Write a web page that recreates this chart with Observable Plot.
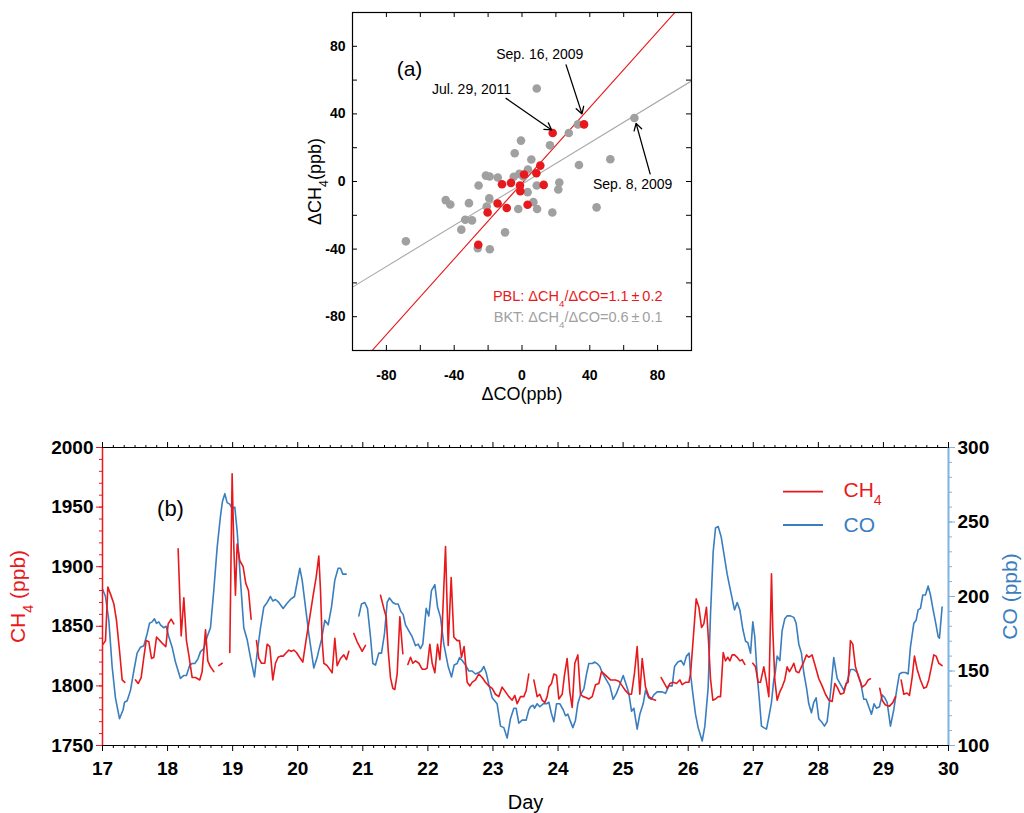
<!DOCTYPE html>
<html><head><meta charset="utf-8">
<script src="https://cdn.jsdelivr.net/npm/d3@7"></script>
<script src="https://cdn.jsdelivr.net/npm/@observablehq/plot@0.6"></script>
<style>
body{margin:0;background:#fff;}
#chart{position:relative;width:1024px;height:813px;background:#fff;}
#chart svg{display:block;}
</style></head><body><div id="chart"></div>
<script>
// ---------- Panel (a) data ----------
const scatterDomain = [-100, 100];
const scatterLabelTicks = [-80, -40, 0, 40, 80];
const scatterMinorTicks = [-80, -60, -40, -20, 0, 20, 40, 60, 80];
const bktX = [8.7, 33, 27.6, -0.6, 16.5, -4.3, 5.5, 33.6, 52.1, 3.5, 0.8, -21.3, -19.1, -14.3, -4.9, -25.6, 8.7, 22, 21.4, -19.3, -45, -42.3, -31.3, -20.8, 6.7, 8.9, -2.2, 17.9, -33.5, -29.5, -35.8, -10, -68.5, -26.1, -19, 44, 66.3, 3.3, -1.6];
const bktY = [55, 33.8, 28.7, 24.2, 21.4, 16.7, 13, 9.8, 13.2, 7.1, 3, 3.5, 3, 2.4, 2.8, -2.4, -2.4, -0.6, -4.7, -10, -11, -13.6, -12.8, -14.8, -12.2, -16.3, -16.3, -18.3, -22.6, -23, -28.5, -30.1, -35.4, -39.4, -40.1, -15.3, 37.6, -6.3, 4.5];
const pblX = [18.1, 36.6, 10.8, 8.5, 1.2, -11.8, -6.5, -1.2, -1, 12.8, -14.4, -9, 3.3, -20.3, -25.8];
const pblY = [28.7, 33.8, 9.4, 4.9, 4.1, -1.6, -0.8, -2.4, -5.7, -2, -13, -15.7, -13.8, -18.3, -37.4];
const pblFit = {slope: 1.12, intercept: -1};
const bktFit = {slope: 0.61, intercept: -1.5};
const annoText = ["Sep. 16, 2009", "Jul. 29, 2011", "Sep. 8, 2009"];
const annoTextX = [10.5, -29.8, 65.3];
const annoTextY = [75, 54.6, -1.5];
const annoX1 = [26, -9.4, 75.6];
const annoY1 = [69, 49.2, 4.5];
const annoX2 = [35.4, 17.5, 67.3];
const annoY2 = [40, 30.5, 34.4];

// ---------- Panel (b) data ----------
const dayDomain = [17, 30];
const ch4Domain = [1750, 2000];
const coDomain = [100, 300];
const dayTicks = d3.range(17, 31);
const ch4Ticks = [1750, 1800, 1850, 1900, 1950, 2000];
const coTicks = [100, 150, 200, 250, 300];
// CH4 (ppb) series, [day, value]; null = data gap
const ch4Series = [
 [17.01,1835],[17.046,1838],[17.082,1883],[17.123,1877],[17.174,1869],[17.215,1855],[17.266,1827],[17.302,1805],[17.343,1803],null,
 [17.507,1805],[17.548,1802],[17.594,1807],[17.635,1824],[17.671,1838],[17.712,1837],[17.753,1823],[17.789,1824],[17.83,1841],[17.881,1838],[17.932,1835],[17.973,1833],[18.009,1852],[18.055,1856],[18.096,1852],null,
 [18.162,1915],[18.209,1842],[18.25,1874],[18.29,1838],[18.326,1826],[18.378,1807],[18.429,1807],[18.495,1805],[18.531,1812],[18.583,1847],[18.618,1821],[18.659,1816],[18.711,1812],null,
 [18.787,1817],[18.839,1819],null,
 [18.956,1828],[18.992,1978],[19.018,1916],[19.043,1876],[19.069,1919],[19.11,1905],[19.161,1900],[19.202,1886],[19.243,1880],[19.284,1856],null,
 [19.366,1838],[19.402,1823],[19.443,1819],[19.494,1819],[19.53,1835],[19.571,1833],[19.617,1805],[19.658,1819],[19.699,1824],[19.735,1825],[19.776,1825],[19.827,1828],[19.863,1830],[19.899,1829],[19.94,1830],[19.981,1828],[20.027,1824],[20.078,1820],[20.135,1841],[20.186,1858],[20.237,1876],[20.283,1891],[20.324,1909],[20.35,1880],[20.375,1838],[20.401,1819],[20.452,1817],[20.503,1813],[20.529,1811],[20.57,1840],[20.606,1817],[20.657,1823],[20.708,1826],[20.749,1822],[20.785,1829],null,
 [20.862,1844],[20.913,1837],[20.99,1829],[21.041,1834],null,
 [21.272,1876],[21.323,1865],[21.359,1858],[21.39,1830],[21.425,1807],[21.461,1798],[21.492,1797],[21.528,1810],[21.569,1858],[21.615,1827],null,
 [21.692,1818],[21.733,1824],[21.769,1819],[21.81,1821],[21.861,1819],[21.912,1814],[21.963,1814],[21.989,1815],[22.03,1835],[22.066,1819],[22.107,1811],[22.148,1835],[22.184,1822],[22.219,1849],[22.271,1917],[22.312,1834],[22.358,1891],[22.399,1841],[22.45,1838],[22.486,1838],[22.516,1824],[22.557,1833],[22.604,1803],[22.645,1800],[22.68,1803],[22.732,1805],[22.783,1810],[22.834,1807],[22.885,1803],[22.936,1800],[22.988,1798],[23.039,1793],[23.09,1791],[23.141,1799],[23.193,1795],[23.244,1791],[23.295,1788],[23.336,1792],[23.372,1785],[23.423,1791],[23.474,1791],[23.51,1796],[23.551,1810],null,
 [23.628,1805],[23.679,1791],[23.72,1793],[23.756,1788],[23.797,1786],[23.833,1791],[23.859,1799],[23.9,1802],[23.936,1810],[23.977,1809],[24.012,1789],[24.064,1793],[24.099,1809],[24.14,1823],[24.181,1795],[24.217,1782],[24.258,1819],[24.304,1826],[24.345,1793],[24.386,1791],[24.438,1790],[24.473,1789],[24.525,1791],[24.576,1801],[24.627,1802],[24.668,1812],[24.729,1809],[24.806,1805],[24.883,1805],[24.934,1804],[24.986,1800],[25.037,1796],[25.088,1793],[25.129,1793],[25.175,1811],[25.216,1833],[25.257,1793],[25.293,1823],[25.344,1799],[25.395,1791],[25.447,1789],[25.498,1788],null,
 [25.585,1807],[25.636,1802],[25.677,1798],[25.718,1802],[25.769,1803],[25.82,1802],[25.872,1805],[25.907,1801],[25.959,1803],[26.01,1803],[26.036,1810],[26.071,1835],[26.123,1873],[26.164,1866],[26.205,1849],[26.24,1852],[26.281,1866],[26.317,1833],[26.343,1806],[26.379,1788],[26.42,1789],[26.461,1791],[26.497,1791],[26.538,1828],[26.573,1821],[26.609,1824],[26.64,1821],[26.676,1826],[26.712,1826],[26.753,1824],[26.794,1821],[26.83,1822],[26.87,1818],null,
 [26.993,1819],[27.034,1816],[27.075,1803],[27.11,1803],[27.162,1816],[27.198,1805],[27.239,1791],[27.28,1894],[27.3,1847],[27.331,1805],[27.367,1788],[27.408,1795],[27.443,1799],[27.484,1805],[27.52,1816],[27.556,1812],[27.597,1816],[27.623,1819],[27.659,1812],[27.7,1811],[27.74,1816],[27.776,1820],[27.817,1826],[27.853,1824],[27.904,1826],[27.956,1816],[28.007,1806],[28.058,1800],[28.109,1793],[28.161,1788],[28.212,1787],[28.253,1802],[28.289,1799],[28.34,1793],[28.391,1794],[28.427,1802],[28.458,1803],[28.493,1838],[28.529,1835],[28.57,1816],[28.621,1807],[28.673,1799],[28.724,1801],[28.765,1805],[28.801,1806],null,
 [28.944,1798],[28.98,1788],[29.031,1784],[29.093,1783],[29.144,1786],[29.185,1791],null,
 [29.272,1805],[29.313,1793],[29.364,1794],[29.4,1792],[29.441,1807],[29.477,1825],[29.518,1814],[29.569,1805],[29.62,1798],[29.661,1799],[29.697,1805],[29.738,1816],[29.774,1826],[29.81,1825],[29.851,1819],[29.902,1817]
];
// CO (ppb) series, [day, value]; null = data gap
const coSeries = [
 [17,205],[17.046,200],[17.097,184],[17.148,153],[17.199,132],[17.261,118],[17.317,124],[17.338,129],[17.379,130],[17.43,137],[17.481,150],[17.532,162],[17.584,166],[17.635,167],[17.686,175],[17.722,182],[17.763,183],[17.799,185],[17.83,182],[17.865,183],[17.891,181],[17.942,179],[17.978,180],[18.019,173],[18.07,166],[18.121,156],[18.198,145],[18.25,147],[18.29,147],[18.342,154],[18.378,155],[18.418,155],[18.465,158],[18.506,163],[18.557,165],[18.608,173],[18.659,179],[18.71,204],[18.762,233],[18.813,254],[18.844,264],[18.88,269],[18.915,263],[18.956,262],[18.992,259],[19.033,260],[19.069,244],[19.12,211],[19.171,179],[19.223,171],[19.274,159],[19.335,146],[19.376,162],[19.428,179],[19.479,193],[19.53,196],[19.581,200],[19.617,197],[19.658,198],[19.709,196],[19.776,192],[19.827,195],[19.888,198],[19.95,200],[20.032,219],[20.068,211],[20.119,193],[20.17,175],[20.247,152],[20.298,159],[20.324,164],[20.365,171],[20.416,184],[20.468,181],[20.519,193],[20.57,211],[20.621,219],[20.657,219],[20.693,215],[20.744,215],null,
 [20.939,187],[20.98,195],[21.031,196],[21.072,192],[21.118,173],[21.154,155],[21.195,154],[21.246,162],[21.287,162],[21.333,175],[21.374,196],[21.41,199],[21.461,196],[21.502,195],[21.543,195],[21.584,190],[21.62,188],[21.656,181],[21.707,177],[21.758,173],[21.81,167],[21.851,168],[21.886,165],[21.922,168],[21.974,192],[22.014,187],[22.055,204],[22.107,208],[22.148,193],[22.194,186],[22.245,168],[22.312,153],[22.363,146],[22.404,154],[22.45,155],[22.486,159],[22.527,157],[22.578,154],[22.629,150],[22.68,150],[22.732,148],[22.783,149],[22.819,150],[22.86,153],[22.895,149],[22.936,141],[22.988,132],[23.064,128],[23.116,113],[23.167,112],[23.218,105],[23.269,118],[23.321,125],[23.356,125],[23.397,115],[23.449,117],[23.51,117],[23.551,124],[23.577,126],[23.618,127],[23.638,125],[23.679,128],[23.72,126],[23.772,128],[23.823,128],[23.859,129],[23.895,122],[23.936,116],[23.977,128],[24.028,128],[24.079,124],[24.115,120],[24.151,121],[24.192,116],[24.228,112],[24.268,117],[24.304,128],[24.345,134],[24.397,138],[24.438,148],[24.473,155],[24.525,155],[24.566,156],[24.601,155],[24.642,153],[24.678,149],[24.729,145],[24.796,140],[24.847,131],[24.898,135],[24.95,141],[25.001,147],[25.047,141],[25.088,135],[25.129,123],[25.165,125],[25.216,111],[25.257,121],[25.308,128],[25.344,137],[25.395,132],[25.431,131],[25.472,134],[25.523,136],[25.6,136],[25.651,135],[25.703,140],[25.754,140],[25.79,153],[25.841,156],[25.892,157],[25.933,154],[25.974,160],[26.015,162],[26.036,148],[26.071,135],[26.112,121],[26.153,112],[26.215,103],[26.256,113],[26.307,139],[26.343,188],[26.384,230],[26.42,246],[26.461,247],[26.507,240],[26.548,229],[26.599,215],[26.65,204],[26.712,191],[26.753,196],[26.794,191],[26.84,178],[26.881,170],[26.917,169],[26.958,162],[26.993,183],[27.023,173],[27.059,148],[27.095,130],[27.126,113],[27.162,112],[27.203,111],[27.239,119],[27.28,129],[27.315,144],[27.341,150],[27.367,160],[27.408,157],[27.443,177],[27.484,185],[27.52,187],[27.571,187],[27.623,186],[27.659,182],[27.7,168],[27.74,162],[27.776,149],[27.817,139],[27.853,128],[27.894,122],[27.93,129],[27.966,132],[28.007,118],[28.048,116],[28.094,113],[28.135,116],[28.186,135],[28.237,159],[28.289,145],[28.34,141],[28.391,137],[28.442,143],[28.493,151],[28.545,151],[28.596,149],[28.647,143],[28.698,131],[28.734,131],[28.775,126],[28.816,121],[28.857,128],[28.893,125],[28.939,126],[28.98,134],[29.021,132],[29.057,129],[29.108,113],[29.159,124],[29.21,139],[29.246,148],[29.287,149],[29.339,149],[29.38,148],[29.415,166],[29.467,182],[29.502,184],[29.533,191],[29.569,192],[29.605,201],[29.646,201],[29.687,207],[29.723,201],[29.764,191],[29.8,183],[29.841,173],[29.861,172],[29.902,193]
];

// ---------- styles ----------
const RED = "#e8191c", BLUE = "#3a7ebf", GREY = "#a0a0a0", LIGHTBLUE = "#7fb3e0";
const FONT = '"Liberation Sans", Arial, Helvetica, sans-serif';
const NARROW = '"Liberation Sans Narrow", "Arial Narrow", "Liberation Sans", sans-serif';

const bkt = bktX.map((x, i) => ({x, y: bktY[i]}));
const pbl = pblX.map((x, i) => ({x, y: pblY[i]}));
const annos = annoText.map((t, i) => ({t, tx: annoTextX[i], ty: annoTextY[i], x1: annoX1[i], y1: annoY1[i], x2: annoX2[i], y2: annoY2[i]}));

const topFrameW = 1024 - 352 - 333, topFrameH = 410 - 12 - 60, TL = 5;
const C = {textAnchor: "middle", lineAnchor: "middle"};

const topPlot = Plot.plot({
  width: 1024, height: 410,
  marginLeft: 352, marginRight: 333, marginTop: 12, marginBottom: 60,
  style: {fontFamily: FONT, fontSize: "14px", background: "white", color: "black"},
  x: {domain: scatterDomain},
  y: {domain: scatterDomain},
  marks: [
    Plot.line(scatterDomain, {x: d => d, y: d => bktFit.slope * d + bktFit.intercept, stroke: "#a8a8a8", strokeWidth: 1.1, clip: true}),
    Plot.line(scatterDomain, {x: d => d, y: d => pblFit.slope * d + pblFit.intercept, stroke: RED, strokeWidth: 1.1, clip: true}),
    Plot.dot(bkt, {x: "x", y: "y", r: 4.3, fill: GREY}),
    Plot.dot(pbl, {x: "x", y: "y", r: 4.3, fill: RED}),
    Plot.frame({stroke: "black", strokeWidth: 1.2}),
    Plot.tickX(scatterMinorTicks, {x: d => d, insetTop: topFrameH - TL, stroke: "black"}),
    Plot.tickX(scatterMinorTicks, {x: d => d, insetBottom: topFrameH - TL, stroke: "black"}),
    Plot.tickY(scatterMinorTicks, {y: d => d, insetRight: topFrameW - TL, stroke: "black"}),
    Plot.tickY(scatterMinorTicks, {y: d => d, insetLeft: topFrameW - TL, stroke: "black"}),
    Plot.axisX({ticks: scatterLabelTicks, tickSize: 0, tickPadding: 20, label: null, tickFormat: d => String(d), fontWeight: "bold", fontSize: 14}),
    Plot.axisY({ticks: scatterLabelTicks, tickSize: 0, tickPadding: 7, label: null, tickFormat: d => String(d), fontWeight: "bold", fontSize: 14}),
    Plot.arrow(annos, {x1: "x1", y1: "y1", x2: "x2", y2: "y2", stroke: "black", strokeWidth: 1.3, headLength: 9}),
    Plot.text(annos, {x: "tx", y: "ty", text: "t", fontSize: 14, fill: "black"}),
    Plot.text(["(a)"], {frameAnchor: "top-left", dx: 57, dy: 57, fontSize: 21, fill: "black", ...C}),
    Plot.text(["PBL: \u0394CH\u2084/\u0394CO=1.1\u2009\u00b1\u20090.2"], {frameAnchor: "bottom-right", dx: -29, dy: -54.5, textAnchor: "end", lineAnchor: "middle", fontSize: 14.5, fill: RED}),
    Plot.text(["BKT: \u0394CH\u2084/\u0394CO=0.6\u2009\u00b1\u20090.1"], {frameAnchor: "bottom-right", dx: -29, dy: -33, textAnchor: "end", lineAnchor: "middle", fontSize: 14.5, fill: GREY}),
    Plot.text(["\u0394CO(ppb)"], {frameAnchor: "bottom", dy: 44, fontSize: 18, fill: "black", ...C}),
    Plot.text(["\u0394CH\u2084(ppb)"], {frameAnchor: "left", dx: -37, rotate: -90, fontSize: 18, fill: "black", ...C})
  ]
});

const ch4Data = ch4Series.map(p => p ? {day: p[0], v: p[1]} : {day: NaN, v: NaN});
const coData = coSeries.map(p => p ? {day: p[0], v: p[1]} : {day: NaN, v: NaN});
const k = (ch4Domain[1] - ch4Domain[0]) / (coDomain[1] - coDomain[0]);
const coToY = v => ch4Domain[0] + (v - coDomain[0]) * k;
const yToCo = y => coDomain[0] + (y - ch4Domain[0]) / k;
const dayMinor = d3.range(dayDomain[0], dayDomain[1], 1 / 6).filter(d => Math.abs(d - Math.round(d)) > 1e-6);
const ch4Minor = d3.range(ch4Domain[0], ch4Domain[1] + 1, 10);
const coMinor = d3.range(coDomain[0], coDomain[1] + 1, 10);

const bottomPlot = Plot.plot({
  width: 1024, height: 403,
  marginLeft: 102, marginRight: 76, marginTop: 37, marginBottom: 68,
  style: {fontFamily: FONT, fontSize: "14px", background: "white", color: "black"},
  x: {domain: dayDomain},
  y: {domain: ch4Domain},
  marks: [
    Plot.line(coData, {x: "day", y: d => coToY(d.v), stroke: BLUE, strokeWidth: 1.6}),
    Plot.line(ch4Data, {x: "day", y: "v", stroke: RED, strokeWidth: 1.6}),
    Plot.ruleY(ch4Domain, {stroke: "black", strokeWidth: 1.2}),
    Plot.ruleX([dayDomain[0]], {stroke: RED, strokeWidth: 1.5}),
    Plot.ruleX([dayDomain[1]], {stroke: LIGHTBLUE, strokeWidth: 2}),
    Plot.axisX({anchor: "bottom", ticks: dayTicks, tickSize: 6, tickPadding: 10, label: null, tickFormat: d => String(d), fontWeight: "bold", fontSize: 19, fontFamily: NARROW}),
    Plot.axisX({anchor: "bottom", ticks: dayMinor, tickSize: 3, label: null, tickFormat: () => ""}),
    Plot.axisX({anchor: "top", ticks: dayTicks, tickSize: 6, label: null, tickFormat: () => ""}),
    Plot.axisX({anchor: "top", ticks: dayMinor, tickSize: 3, label: null, tickFormat: () => ""}),
    Plot.axisY({anchor: "left", ticks: ch4Ticks, tickSize: 6, tickPadding: 3, stroke: RED, fill: "black", label: null, tickFormat: d => String(d), fontWeight: "bold", fontSize: 19, fontFamily: NARROW}),
    Plot.axisY({anchor: "left", ticks: ch4Minor, tickSize: 3, stroke: RED, label: null, tickFormat: () => ""}),
    Plot.axisY({anchor: "right", ticks: coTicks.map(coToY), tickSize: 6, tickPadding: 3, stroke: LIGHTBLUE, fill: "black", label: null, tickFormat: d => String(Math.round(yToCo(d))), fontWeight: "bold", fontSize: 19, fontFamily: NARROW}),
    Plot.axisY({anchor: "right", ticks: coMinor.map(coToY), tickSize: 3, stroke: LIGHTBLUE, label: null, tickFormat: () => ""}),
    Plot.text(["(b)"], {frameAnchor: "top-left", dx: 68, dy: 61, fontSize: 22, fill: "black", ...C}),
    Plot.text(["CH\u2084"], {frameAnchor: "top-right", dx: -105, dy: 43, textAnchor: "start", lineAnchor: "middle", fontSize: 21, fill: RED}),
    Plot.text(["CO"], {frameAnchor: "top-right", dx: -105, dy: 78, textAnchor: "start", lineAnchor: "middle", fontSize: 21, fill: BLUE}),
    Plot.text(["Day"], {frameAnchor: "bottom", dy: 57, fontSize: 20, fill: "black", ...C}),
    Plot.text(["CH\u2084 (ppb)"], {frameAnchor: "left", dx: -84, rotate: -90, fontSize: 21, fill: RED, ...C}),
    Plot.text(["CO (ppb)"], {frameAnchor: "right", dx: 62, rotate: -90, fontSize: 21, fill: BLUE, ...C})
  ]
});

// legend swatches
const sb = d3.select(bottomPlot);
sb.append("line").attr("x1", 783).attr("x2", 823).attr("y1", 81.7).attr("y2", 81.7).attr("stroke", RED).attr("stroke-width", 1.8);
sb.append("line").attr("x1", 783).attr("x2", 823).attr("y1", 115).attr("y2", 115).attr("stroke", BLUE).attr("stroke-width", 1.8);

// real subscripts
function subscriptify(svg) {
  const ns = "http://www.w3.org/2000/svg";
  svg.querySelectorAll("text").forEach(t => {
    if (t.children.length === 0 && t.textContent.includes("\u2084")) {
      const parts = t.textContent.split("\u2084");
      t.textContent = "";
      parts.forEach((p, i) => {
        if (i > 0) {
          const s = document.createElementNS(ns, "tspan");
          s.setAttribute("baseline-shift", "sub");
          s.setAttribute("font-size", "68%");
          s.textContent = "4";
          t.appendChild(s);
        }
        if (p) {
          const s2 = document.createElementNS(ns, "tspan");
          s2.textContent = p;
          t.appendChild(s2);
        }
      });
    }
  });
}
subscriptify(topPlot);
subscriptify(bottomPlot);

const chart = document.getElementById("chart");
chart.appendChild(topPlot);
chart.appendChild(bottomPlot);
</script>
</body></html>
